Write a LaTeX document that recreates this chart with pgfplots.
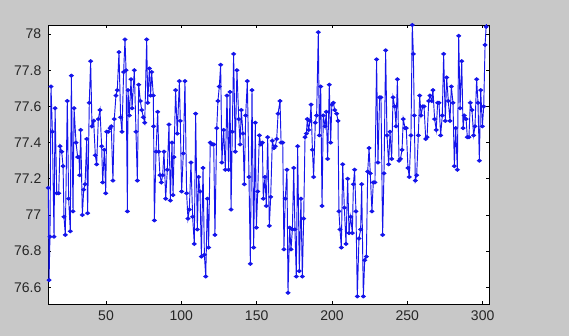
\documentclass[border=0pt]{standalone}
\usepackage{pgfplots}
\pgfplotsset{compat=1.18}
\usepackage{fontspec}
\setmainfont{Liberation Sans}
\definecolor{figgray}{RGB}{200,200,200}
\definecolor{mblue}{RGB}{20,20,235}
\begin{document}
\begin{tikzpicture}[x=1pt,y=1pt]
\fill[figgray] (0,0) rectangle (426.75,252);
\useasboundingbox (0,0) rectangle (426.75,252);
\begin{axis}[
  at={(36pt,24pt)}, anchor=south west,
  scale only axis, width=330.75pt, height=209.25pt,
  xmin=11.5, xmax=304.2, ymin=76.508, ymax=78.05,
  axis background/.style={fill=white},
  xtick={50,100,150,200,250,300},
  ytick={76.6,76.8,77,77.2,77.4,77.6,77.8,78},
  yticklabels={76.6,76.8,77,77.2,77.4,77.6,77.8,78},
  tick align=inside, major tick length=2.5pt,
  xtick pos=both, ytick pos=both,
  tick style={black, line width=0.5pt},
  axis line style={black, line width=0.6pt},
  /pgf/number format/assume math mode=true,
  tick label style={font=\fontsize{10.5}{12}\selectfont, text=black!85},
  xticklabel style={yshift=-1.5pt},
  yticklabel style={xshift=-1.5pt},
  clip=true,
]
\addplot[mblue, line width=0.7pt, mark=*, mark size=1.15pt, mark options={fill=mblue, draw=mblue, xscale=1.25}] coordinates {
(11.7,77.15) (12.2,76.64) (12.8,76.88) (13.5,77.71) (14.4,77.46) (15.5,76.88) (16.2,77.59)
(17.3,77.12) (18.6,77.12) (19.5,77.38) (20.6,77.35) (21.5,77.27) (22.1,76.99) (23.0,76.89)
(24.3,77.63) (25.2,77.09) (26.3,76.91) (27.0,77.77) (28.1,77.02) (28.8,77.59) (30.1,77.40)
(31.2,77.32) (32.1,77.32) (32.5,77.22) (33.2,77.47) (34.3,77.00) (35.2,77.14) (36.1,77.17)
(37.2,77.42) (37.8,77.01) (38.9,77.62) (39.8,77.85) (40.7,77.49) (41.8,77.52) (42.9,77.33)
(43.8,77.28) (44.9,77.53) (46.0,77.58) (47.1,77.38) (47.8,77.18) (48.9,77.36) (49.8,77.12)
(50.4,77.46) (51.5,77.46) (52.7,77.48) (53.5,77.49) (54.6,77.19) (55.5,77.53) (56.6,77.66)
(57.5,77.69) (58.6,77.90) (59.7,77.54) (60.6,77.46) (61.7,77.79) (62.6,77.97) (63.3,77.80)
(64.2,77.02) (64.6,77.69) (65.5,77.55) (66.6,77.75) (67.3,77.59) (68.8,77.80) (69.9,77.46)
(70.8,77.19) (71.7,77.72) (72.8,77.63) (73.7,77.58) (74.8,77.54) (75.7,77.51) (77.0,77.97)
(77.7,77.62) (78.8,77.81) (79.6,77.66) (80.3,77.79) (81.4,77.66) (81.6,77.49) (82.1,76.97)
(83.2,77.35) (84.3,77.57) (85.0,77.35) (85.8,77.22) (86.7,77.18) (87.6,77.22) (88.5,77.35)
(89.6,77.09) (90.7,77.25) (91.8,77.50) (92.7,77.08) (93.8,77.40) (94.5,77.11) (95.1,77.32)
(96.2,77.69) (97.3,77.45) (98.7,77.74) (99.3,77.52) (100.2,77.13) (101.3,77.34) (102.4,77.74)
(103.5,77.12) (104.4,76.98) (105.3,77.03) (106.4,77.29) (107.5,76.99) (108.6,76.84) (109.5,77.56)
(110.6,76.92) (111.5,77.21) (112.4,77.13) (113.3,76.77) (114.4,77.26) (115.3,76.78) (116.2,76.66)
(117.3,77.09) (118.1,76.82) (119.2,77.40) (120.4,77.39) (121.5,77.39) (122.3,76.89) (123.5,77.48)
(124.3,77.63) (125.2,77.71) (126.1,77.83) (126.9,77.29) (128.1,77.47) (129.2,77.25) (130.3,77.66)
(131.4,77.25) (132.3,77.68) (133.0,77.03) (133.8,77.46) (134.7,77.89) (135.8,77.35) (136.9,77.80)
(138.1,77.53) (139.0,77.39) (139.8,77.58) (140.9,77.45) (141.8,77.17) (142.7,77.55) (143.8,77.74)
(144.9,77.21) (145.8,76.73) (146.9,77.69) (148.0,76.82) (149.1,77.51) (149.8,76.93) (150.7,77.13)
(151.8,77.44) (152.7,77.39) (153.8,77.40) (154.4,77.09) (155.5,77.21) (156.4,77.05) (157.3,77.43)
(158.4,76.94) (159.3,77.10) (160.4,77.41) (161.5,77.37) (162.4,77.38) (163.3,77.42) (164.2,77.56)
(165.5,77.63) (166.2,77.40) (167.3,77.40) (168.1,76.81) (169.0,77.09) (170.1,77.25) (170.8,76.57)
(171.9,76.93) (172.8,76.81) (173.7,76.92) (174.6,77.26) (175.4,76.92) (176.3,76.66) (177.2,77.38)
(178.3,76.69) (179.4,77.09) (180.3,76.66) (181.2,76.98) (182.1,77.43) (183.0,77.45) (183.6,77.53)
(184.5,77.47) (185.4,77.52) (186.1,77.61) (187.0,77.36) (187.8,77.21) (188.9,77.51) (189.8,77.55)
(190.9,78.01) (191.6,77.44) (192.5,77.71) (193.4,77.05) (194.2,77.55) (195.4,77.49) (196.2,77.57)
(197.1,77.31) (198.2,77.72) (199.1,77.40) (199.9,77.61) (200.9,77.62) (201.8,77.58) (203.1,77.56)
(204.0,77.52) (204.6,77.02) (205.3,76.92) (206.2,76.82) (207.1,77.28) (208.2,77.04) (209.3,76.84)
(210.4,77.20) (211.3,76.90) (212.4,76.99) (213.5,76.90) (214.2,77.17) (215.0,77.25) (215.9,77.02)
(216.8,76.55) (217.9,76.87) (219.0,76.92) (219.7,77.17) (220.8,76.55) (221.7,76.75) (222.8,76.77)
(223.7,77.24) (224.6,77.37) (225.4,77.23) (226.5,77.02) (227.4,77.18) (228.5,77.18) (229.6,77.86)
(230.5,77.29) (231.6,77.65) (232.5,77.65) (233.6,76.89) (234.5,77.23) (235.6,77.91) (236.5,77.44)
(237.6,77.28) (238.5,77.46) (239.6,77.31) (240.5,77.65) (241.6,77.60) (242.5,77.49) (243.4,77.75)
(244.5,77.30) (245.4,77.31) (246.5,77.36) (247.3,77.53) (248.5,77.48) (249.3,77.48) (250.4,77.26)
(251.3,77.21) (252.4,77.44) (253.3,78.05) (254.0,77.89) (254.6,77.55) (255.3,77.19) (256.2,77.22)
(257.3,77.44) (258.2,77.66) (259.1,77.55) (260.2,77.60) (261.1,77.60) (262.2,77.42) (263.1,77.43)
(264.2,77.63) (265.0,77.66) (266.2,77.63) (267.0,77.69) (268.1,77.53) (269.2,77.47) (270.1,77.62)
(271.0,77.62) (272.1,77.44) (273.2,77.55) (274.1,77.89) (275.2,77.52) (276.1,77.76) (277.2,77.63)
(278.3,77.52) (279.2,77.71) (280.3,77.62) (281.2,77.27) (282.1,77.48) (283.2,77.25) (284.1,77.99)
(285.0,77.59) (286.1,77.85) (287.0,77.48) (287.8,77.55) (289.0,77.53) (289.8,77.43) (290.9,77.43)
(291.8,77.62) (292.9,77.58) (294.0,77.44) (294.9,77.49) (296.0,77.75) (296.9,77.62) (297.8,77.30)
(298.7,77.69) (299.8,77.49) (300.7,77.60) (301.6,77.94) (302.3,78.04) (303.4,78.12)
};
\end{axis}
\end{tikzpicture}
\end{document}
